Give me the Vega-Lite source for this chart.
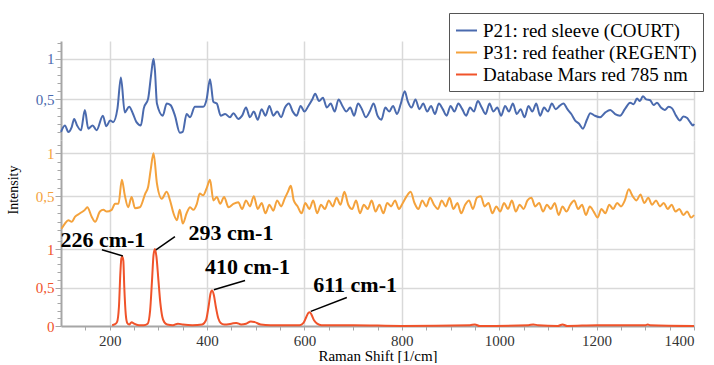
{
  "$schema": "https://vega.github.io/schema/vega-lite/v6.json",
  "background": "white",
  "padding": {"left": 6, "top": 12, "right": 0, "bottom": 0},
  "config": {
    "view": {"stroke": null},
    "font": "Liberation Serif",
    "axis": {
      "labelFont": "Liberation Serif",
      "titleFont": "Liberation Serif",
      "labelFontSize": 15,
      "gridColor": "#d9d9d9",
      "gridWidth": 1.5,
      "domainColor": "#a6a6a6",
      "domainWidth": 2,
      "tickColor": "#a6a6a6",
      "labelOverlap": false
    },
    "axisX": {"titleFontSize": 15, "titleFontWeight": "normal", "titleColor": "black"},
    "axisY": {"titleFontSize": 14, "titleFontWeight": "normal", "titleColor": "black"},
    "legend": {
      "labelFont": "Liberation Serif",
      "labelFontSize": 19,
      "labelColor": "black",
      "labelLimit": 400
    },
    "line": {"strokeWidth": 2, "interpolate": "monotone"}
  },
  "datasets": {
    "p21": [
      {"shift":100,"intensity":0.10},{"shift":108,"intensity":0.18},{"shift":115,"intensity":0.10},{"shift":122,"intensity":0.16},{"shift":127,"intensity":0.26},{"shift":133,"intensity":0.18},{"shift":141,"intensity":0.12},{"shift":149,"intensity":0.37},{"shift":156,"intensity":0.14},{"shift":165,"intensity":0.18},{"shift":173,"intensity":0.12},{"shift":186,"intensity":0.30},{"shift":193,"intensity":0.17},{"shift":201,"intensity":0.24},{"shift":207,"intensity":0.22},{"shift":216,"intensity":0.39},{"shift":223,"intensity":0.77},{"shift":231,"intensity":0.34},{"shift":240,"intensity":0.41},{"shift":248,"intensity":0.32},{"shift":255,"intensity":0.22},{"shift":264,"intensity":0.18},{"shift":270,"intensity":0.39},{"shift":279,"intensity":0.51},{"shift":285,"intensity":0.80},{"shift":290,"intensity":1.0},{"shift":293,"intensity":0.85},{"shift":297,"intensity":0.45},{"shift":309,"intensity":0.30},{"shift":317,"intensity":0.45},{"shift":325,"intensity":0.43},{"shift":334,"intensity":0.30},{"shift":344,"intensity":0.09},{"shift":350,"intensity":0.10},{"shift":358,"intensity":0.32},{"shift":365,"intensity":0.28},{"shift":375,"intensity":0.41},{"shift":385,"intensity":0.41},{"shift":392,"intensity":0.41},{"shift":399,"intensity":0.50},{"shift":406,"intensity":0.75},{"shift":413,"intensity":0.47},{"shift":420,"intensity":0.45},{"shift":428,"intensity":0.30},{"shift":437,"intensity":0.32},{"shift":447,"intensity":0.28},{"shift":454,"intensity":0.33},{"shift":464,"intensity":0.26},
      {"shift":472,"intensity":0.30},{"shift":480,"intensity":0.40},{"shift":488,"intensity":0.28},{"shift":496,"intensity":0.35},{"shift":504,"intensity":0.25},{"shift":512,"intensity":0.38},{"shift":520,"intensity":0.30},{"shift":528,"intensity":0.42},{"shift":536,"intensity":0.30},{"shift":544,"intensity":0.35},{"shift":552,"intensity":0.28},{"shift":560,"intensity":0.40},{"shift":568,"intensity":0.45},{"shift":576,"intensity":0.35},{"shift":584,"intensity":0.30},{"shift":592,"intensity":0.42},{"shift":600,"intensity":0.35},{"shift":608,"intensity":0.42},{"shift":616,"intensity":0.50},{"shift":622,"intensity":0.57},{"shift":630,"intensity":0.48},{"shift":638,"intensity":0.52},{"shift":646,"intensity":0.40},{"shift":654,"intensity":0.45},{"shift":662,"intensity":0.35},{"shift":670,"intensity":0.50},{"shift":678,"intensity":0.42},{"shift":686,"intensity":0.35},{"shift":694,"intensity":0.40},{"shift":702,"intensity":0.30},{"shift":710,"intensity":0.45},{"shift":718,"intensity":0.38},{"shift":726,"intensity":0.28},{"shift":734,"intensity":0.35},{"shift":742,"intensity":0.45},{"shift":750,"intensity":0.30},{"shift":758,"intensity":0.25},{"shift":766,"intensity":0.40},{"shift":774,"intensity":0.35},{"shift":782,"intensity":0.42},{"shift":790,"intensity":0.32},{"shift":798,"intensity":0.45},{"shift":806,"intensity":0.60},{"shift":812,"intensity":0.48},{"shift":820,"intensity":0.40},{"shift":828,"intensity":0.50},{"shift":836,"intensity":0.38},{"shift":844,"intensity":0.45},{"shift":852,"intensity":0.35},{"shift":860,"intensity":0.42},{"shift":868,"intensity":0.32},{"shift":876,"intensity":0.45},{"shift":884,"intensity":0.38},{"shift":892,"intensity":0.30},{"shift":900,"intensity":0.42},{"shift":908,"intensity":0.35},{"shift":916,"intensity":0.45},{"shift":924,"intensity":0.38},{"shift":932,"intensity":0.30},{"shift":940,"intensity":0.40},{"shift":948,"intensity":0.35},{"shift":956,"intensity":0.48},{"shift":964,"intensity":0.40},{"shift":972,"intensity":0.32},{"shift":980,"intensity":0.45},{"shift":988,"intensity":0.35},{"shift":996,"intensity":0.40},{"shift":1004,"intensity":0.30},{"shift":1012,"intensity":0.42},{"shift":1020,"intensity":0.35},{"shift":1028,"intensity":0.45},{"shift":1036,"intensity":0.32},{"shift":1044,"intensity":0.38},{"shift":1052,"intensity":0.28},{"shift":1060,"intensity":0.42},{"shift":1068,"intensity":0.35},{"shift":1076,"intensity":0.45},{"shift":1084,"intensity":0.30},{"shift":1092,"intensity":0.40},{"shift":1100,"intensity":0.35},{"shift":1108,"intensity":0.45},{"shift":1116,"intensity":0.38},
      {"shift":1124,"intensity":0.42},{"shift":1132,"intensity":0.45},{"shift":1140,"intensity":0.38},{"shift":1148,"intensity":0.32},{"shift":1156,"intensity":0.24},{"shift":1164,"intensity":0.20},{"shift":1172,"intensity":0.14},{"shift":1180,"intensity":0.25},{"shift":1187,"intensity":0.33},{"shift":1196,"intensity":0.30},{"shift":1207,"intensity":0.28},{"shift":1218,"intensity":0.34},{"shift":1228,"intensity":0.37},{"shift":1238,"intensity":0.32},{"shift":1248,"intensity":0.30},{"shift":1258,"intensity":0.38},{"shift":1269,"intensity":0.46},{"shift":1276,"intensity":0.44},{"shift":1283,"intensity":0.51},{"shift":1289,"intensity":0.48},{"shift":1295,"intensity":0.54},{"shift":1302,"intensity":0.50},{"shift":1310,"intensity":0.49},{"shift":1317,"intensity":0.43},{"shift":1324,"intensity":0.46},{"shift":1332,"intensity":0.40},{"shift":1340,"intensity":0.37},{"shift":1348,"intensity":0.41},{"shift":1355,"intensity":0.39},{"shift":1363,"intensity":0.30},{"shift":1371,"intensity":0.24},{"shift":1378,"intensity":0.29},{"shift":1386,"intensity":0.27},{"shift":1392,"intensity":0.22},{"shift":1398,"intensity":0.18},{"shift":1400,"intensity":0.20}
    ],
    "p31": [
      {"shift":101,"intensity":0.12},{"shift":108,"intensity":0.18},{"shift":115,"intensity":0.22},{"shift":122,"intensity":0.20},{"shift":129,"intensity":0.26},{"shift":139,"intensity":0.30},{"shift":149,"intensity":0.34},{"shift":154,"intensity":0.37},{"shift":163,"intensity":0.26},{"shift":170,"intensity":0.20},{"shift":180,"intensity":0.32},{"shift":187,"intensity":0.34},{"shift":194,"intensity":0.32},{"shift":204,"intensity":0.34},{"shift":211,"intensity":0.41},{"shift":218,"intensity":0.41},{"shift":225,"intensity":0.69},{"shift":231,"intensity":0.51},{"shift":238,"intensity":0.37},{"shift":245,"intensity":0.49},{"shift":252,"intensity":0.36},{"shift":262,"intensity":0.37},{"shift":273,"intensity":0.53},{"shift":279,"intensity":0.61},{"shift":284,"intensity":0.80},{"shift":290,"intensity":1.0},{"shift":297,"intensity":0.65},{"shift":307,"intensity":0.47},{"shift":317,"intensity":0.55},{"shift":324,"intensity":0.45},{"shift":331,"intensity":0.30},{"shift":338,"intensity":0.22},{"shift":344,"intensity":0.34},{"shift":350,"intensity":0.18},{"shift":358,"intensity":0.30},{"shift":365,"intensity":0.37},{"shift":372,"intensity":0.34},{"shift":379,"intensity":0.41},{"shift":385,"intensity":0.53},{"shift":392,"intensity":0.51},{"shift":399,"intensity":0.59},{"shift":406,"intensity":0.69},{"shift":413,"intensity":0.45},{"shift":420,"intensity":0.49},{"shift":427,"intensity":0.41},{"shift":435,"intensity":0.49},{"shift":444,"intensity":0.37},{"shift":454,"intensity":0.41},{"shift":464,"intensity":0.43},
      {"shift":472,"intensity":0.35},{"shift":480,"intensity":0.45},{"shift":488,"intensity":0.38},{"shift":496,"intensity":0.50},{"shift":504,"intensity":0.35},{"shift":512,"intensity":0.42},{"shift":520,"intensity":0.30},{"shift":528,"intensity":0.40},{"shift":536,"intensity":0.33},{"shift":544,"intensity":0.45},{"shift":552,"intensity":0.38},{"shift":560,"intensity":0.48},{"shift":566,"intensity":0.55},{"shift":572,"intensity":0.62},{"shift":578,"intensity":0.45},{"shift":586,"intensity":0.38},{"shift":594,"intensity":0.30},{"shift":602,"intensity":0.42},{"shift":610,"intensity":0.35},{"shift":618,"intensity":0.45},{"shift":626,"intensity":0.30},{"shift":634,"intensity":0.40},{"shift":642,"intensity":0.35},{"shift":650,"intensity":0.45},{"shift":658,"intensity":0.38},{"shift":666,"intensity":0.48},{"shift":674,"intensity":0.40},{"shift":682,"intensity":0.55},{"shift":690,"intensity":0.40},{"shift":698,"intensity":0.35},{"shift":706,"intensity":0.45},{"shift":714,"intensity":0.30},{"shift":722,"intensity":0.40},{"shift":730,"intensity":0.35},{"shift":738,"intensity":0.45},{"shift":746,"intensity":0.32},{"shift":754,"intensity":0.40},{"shift":762,"intensity":0.30},{"shift":770,"intensity":0.42},{"shift":778,"intensity":0.38},{"shift":786,"intensity":0.45},{"shift":794,"intensity":0.35},{"shift":802,"intensity":0.42},{"shift":810,"intensity":0.50},{"shift":818,"intensity":0.55},{"shift":826,"intensity":0.42},{"shift":834,"intensity":0.35},{"shift":842,"intensity":0.45},{"shift":850,"intensity":0.38},{"shift":858,"intensity":0.48},{"shift":866,"intensity":0.40},{"shift":874,"intensity":0.35},{"shift":882,"intensity":0.45},{"shift":890,"intensity":0.38},{"shift":898,"intensity":0.48},{"shift":906,"intensity":0.35},{"shift":914,"intensity":0.42},{"shift":922,"intensity":0.30},{"shift":930,"intensity":0.40},{"shift":938,"intensity":0.45},{"shift":946,"intensity":0.35},{"shift":954,"intensity":0.48},{"shift":962,"intensity":0.50},{"shift":970,"intensity":0.38},{"shift":978,"intensity":0.42},{"shift":986,"intensity":0.30},{"shift":994,"intensity":0.38},{"shift":1002,"intensity":0.32},{"shift":1010,"intensity":0.42},{"shift":1018,"intensity":0.35},{"shift":1026,"intensity":0.45},{"shift":1034,"intensity":0.32},{"shift":1042,"intensity":0.40},{"shift":1050,"intensity":0.35},{"shift":1058,"intensity":0.45},{"shift":1066,"intensity":0.48},{"shift":1074,"intensity":0.38},{"shift":1082,"intensity":0.42},{"shift":1090,"intensity":0.32},{"shift":1098,"intensity":0.40},{"shift":1106,"intensity":0.35},{"shift":1114,"intensity":0.42},{"shift":1122,"intensity":0.28},{"shift":1130,"intensity":0.38},{"shift":1138,"intensity":0.32},{"shift":1146,"intensity":0.40},{"shift":1154,"intensity":0.45},{"shift":1162,"intensity":0.35},{"shift":1170,"intensity":0.40},{"shift":1178,"intensity":0.28},{"shift":1186,"intensity":0.38},{"shift":1194,"intensity":0.32},{"shift":1202,"intensity":0.25},{"shift":1210,"intensity":0.35},{"shift":1218,"intensity":0.30},{"shift":1226,"intensity":0.40},{"shift":1234,"intensity":0.35},{"shift":1242,"intensity":0.42},{"shift":1250,"intensity":0.38},{"shift":1258,"intensity":0.45},{"shift":1266,"intensity":0.58},{"shift":1274,"intensity":0.50},{"shift":1282,"intensity":0.45},{"shift":1290,"intensity":0.52},{"shift":1298,"intensity":0.42},{"shift":1306,"intensity":0.48},{"shift":1314,"intensity":0.40},{"shift":1322,"intensity":0.45},{"shift":1330,"intensity":0.38},{"shift":1338,"intensity":0.42},{"shift":1346,"intensity":0.35},{"shift":1354,"intensity":0.40},{"shift":1362,"intensity":0.32},{"shift":1370,"intensity":0.35},{"shift":1378,"intensity":0.28},{"shift":1386,"intensity":0.32},{"shift":1394,"intensity":0.25},{"shift":1400,"intensity":0.28}
    ],
    "mars": [
      {"shift":205,"intensity":0.01},{"shift":210,"intensity":0.02},{"shift":215,"intensity":0.05},{"shift":219,"intensity":0.25},{"shift":222,"intensity":0.70},{"shift":224,"intensity":0.88},{"shift":226,"intensity":0.90},{"shift":228,"intensity":0.85},{"shift":230,"intensity":0.50},{"shift":233,"intensity":0.15},{"shift":236,"intensity":0.04},{"shift":240,"intensity":0.02},{"shift":245,"intensity":0.05},{"shift":250,"intensity":0.03},{"shift":260,"intensity":0.01},{"shift":270,"intensity":0.01},{"shift":278,"intensity":0.03},{"shift":283,"intensity":0.20},{"shift":287,"intensity":0.60},{"shift":290,"intensity":0.92},{"shift":293,"intensity":1.0},{"shift":296,"intensity":0.90},{"shift":300,"intensity":0.60},{"shift":304,"intensity":0.30},{"shift":308,"intensity":0.12},{"shift":312,"intensity":0.05},{"shift":318,"intensity":0.02},{"shift":330,"intensity":0.01},{"shift":340,"intensity":0.03},{"shift":350,"intensity":0.02},{"shift":370,"intensity":0.01},{"shift":390,"intensity":0.02},{"shift":398,"intensity":0.08},{"shift":403,"intensity":0.25},{"shift":407,"intensity":0.42},{"shift":410,"intensity":0.46},{"shift":414,"intensity":0.40},{"shift":418,"intensity":0.25},{"shift":423,"intensity":0.10},{"shift":428,"intensity":0.04},{"shift":435,"intensity":0.02},{"shift":450,"intensity":0.03},{"shift":460,"intensity":0.04},{"shift":470,"intensity":0.02},{"shift":480,"intensity":0.03},{"shift":490,"intensity":0.06},{"shift":498,"intensity":0.05},{"shift":510,"intensity":0.02},{"shift":530,"intensity":0.01},{"shift":560,"intensity":0.01},{"shift":590,"intensity":0.01},{"shift":598,"intensity":0.04},{"shift":604,"intensity":0.12},{"shift":608,"intensity":0.17},{"shift":611,"intensity":0.18},{"shift":615,"intensity":0.14},{"shift":620,"intensity":0.07},{"shift":626,"intensity":0.03},{"shift":635,"intensity":0.01},{"shift":660,"intensity":0.01},{"shift":700,"intensity":0.01},{"shift":800,"intensity":0.0},{"shift":940,"intensity":0.01},{"shift":950,"intensity":0.02},{"shift":960,"intensity":0.0},{"shift":1060,"intensity":0.01},{"shift":1070,"intensity":0.02},{"shift":1080,"intensity":0.01},{"shift":1120,"intensity":0.0},{"shift":1130,"intensity":0.02},{"shift":1140,"intensity":0.0},{"shift":1200,"intensity":0.01},{"shift":1300,"intensity":0.01},{"shift":1305,"intensity":0.02},{"shift":1310,"intensity":0.01},{"shift":1400,"intensity":0.0}
    ],
    "leaders": [
      {"shift":227,"intensity":0.91,"toShift":184,"toIntensity":0.99},
      {"shift":295,"intensity":0.99,"toShift":334,"toIntensity":1.16},
      {"shift":414,"intensity":0.47,"toShift":478,"toIntensity":0.59},
      {"shift":613,"intensity":0.19,"toShift":687,"toIntensity":0.37}
    ],
    "labels": [
      {"label":"226 cm-1","shift":186,"intensity":1.12},
      {"label":"293 cm-1","shift":449,"intensity":1.21},
      {"label":"410 cm-1","shift":483,"intensity":0.765},
      {"label":"611 cm-1","shift":704,"intensity":0.53}
    ]
  },
  "spacing": 0,
  "bounds": "flush",
  "vconcat": [
    {
      "width": 633,
      "height": 99,
      "data": {"name": "p21"},
      "mark": {"type": "line"},
      "encoding": {
        "x": {
          "field": "shift", "type": "quantitative",
          "scale": {"domain": [100, 1400], "nice": false, "zero": false},
          "axis": {"values": [200, 400, 600, 800, 1000, 1200, 1400], "grid": true, "labels": false, "ticks": false, "domain": false, "title": null}
        },
        "y": {
          "field": "intensity", "type": "quantitative",
          "scale": {"domain": [0, 1.22], "nice": false},
          "axis": {
            "values": [0.1, 0.2, 0.3, 0.4, 0.5, 0.6, 0.7, 0.8, 0.9, 1, 1.1, 1.2],
            "labelExpr": "datum.value == 1 ? '1' : datum.value == 0.5 ? '0,5' : ''",
            "gridOpacity": {"condition": {"test": "datum.value == 0.5 || datum.value == 1", "value": 1}, "value": 0},
            "tickSize": {"condition": {"test": "datum.value == 0.5 || datum.value == 1", "value": 6}, "value": 4},
            "labelColor": "#4a6aae", "labelFontSize": 15, "labelPadding": 1, "title": null, "minExtent": 30, "maxExtent": 30
          }
        },
        "color": {
          "datum": "P21: red sleeve (COURT)",
          "type": "nominal",
          "scale": {
            "domain": ["P21: red sleeve (COURT)", "P31: red feather (REGENT)", "Database Mars red 785 nm"],
            "range": ["#4a6aae", "#f4a23c", "#f0532a"]
          },
          "legend": {
            "orient": "none", "legendX": 388, "legendY": -28,
            "title": null, "symbolType": "stroke", "symbolSize": 441, "symbolStrokeWidth": 2,
            "labelFont": "Liberation Serif", "labelFontSize": 19, "labelColor": "black", "labelLimit": 400,
            "labelOffset": 5, "rowPadding": 0, "padding": 6,
            "strokeColor": "#555555", "fillColor": "white", "zindex": 2
          }
        }
      }
    },
    {
      "width": 633,
      "height": 99,
      "data": {"name": "p31"},
      "mark": {"type": "line"},
      "encoding": {
        "x": {
          "field": "shift", "type": "quantitative",
          "scale": {"domain": [100, 1400], "nice": false, "zero": false},
          "axis": {"values": [200, 400, 600, 800, 1000, 1200, 1400], "grid": true, "labels": false, "ticks": false, "domain": false, "title": null}
        },
        "y": {
          "field": "intensity", "type": "quantitative",
          "scale": {"domain": [0, 1.155], "nice": false},
          "axis": {
            "values": [0.1, 0.2, 0.3, 0.4, 0.5, 0.6, 0.7, 0.8, 0.9, 1, 1.1],
            "labelExpr": "datum.value == 1 ? '1' : datum.value == 0.5 ? '0,5' : ''",
            "gridOpacity": {"condition": {"test": "datum.value == 0.5 || datum.value == 1", "value": 1}, "value": 0},
            "tickSize": {"condition": {"test": "datum.value == 0.5 || datum.value == 1", "value": 6}, "value": 4},
            "labelColor": "#f4a23c", "labelFontSize": 15, "labelPadding": 1,
            "title": "Intensity", "titleFontSize": 14, "titleFontWeight": "normal", "titleColor": "black", "titlePadding": 11,
            "minExtent": 30, "maxExtent": 30
          }
        },
        "color": {"datum": "P31: red feather (REGENT)", "type": "nominal", "legend": null}
      }
    },
    {
      "width": 633,
      "height": 87,
      "encoding": {
        "x": {
          "field": "shift", "type": "quantitative",
          "scale": {"domain": [100, 1400], "nice": false, "zero": false},
          "axis": {
            "values": [150, 200, 250, 300, 350, 400, 450, 500, 550, 600, 650, 700, 750, 800, 850, 900, 950, 1000, 1050, 1100, 1150, 1200, 1250, 1300, 1350, 1400],
            "labelExpr": "datum.value % 200 == 0 ? format(datum.value, 'd') : ''",
            "gridOpacity": {"condition": {"test": "datum.value % 200 == 0", "value": 1}, "value": 0},
            "tickSize": 4,
            "labelColor": "#333333", "labelFontSize": 15, "labelPadding": 3,
            "title": "Raman Shift [1/cm]", "titleFontSize": 15, "titleFontWeight": "normal", "titleColor": "black", "titlePadding": 0
          }
        },
        "y": {
          "field": "intensity", "type": "quantitative",
          "scale": {"domain": [0, 1.13], "nice": false},
          "axis": {
            "values": [0, 0.1, 0.2, 0.3, 0.4, 0.5, 0.6, 0.7, 0.8, 0.9, 1, 1.1],
            "labelExpr": "datum.value == 1 ? '1' : datum.value == 0.5 ? '0,5' : datum.value == 0 ? '0' : ''",
            "gridOpacity": {"condition": {"test": "datum.value == 0.5 || datum.value == 1", "value": 1}, "value": 0},
            "tickSize": {"condition": {"test": "datum.value == 0.5 || datum.value == 1 || datum.value == 0", "value": 6}, "value": 4},
            "labelColor": "#f0532a", "labelFontSize": 15, "labelPadding": 1, "title": null, "minExtent": 30, "maxExtent": 30
          }
        }
      },
      "layer": [
        {
          "data": {"name": "mars"},
          "mark": {"type": "line"},
          "encoding": {
            "color": {"datum": "Database Mars red 785 nm", "type": "nominal", "legend": null}
          }
        },
        {
          "data": {"name": "leaders"},
          "mark": {"type": "rule", "color": "black", "strokeWidth": 1.5},
          "encoding": {
            "x2": {"field": "toShift"},
            "y2": {"field": "toIntensity"}
          }
        },
        {
          "data": {"name": "labels"},
          "mark": {"type": "text", "font": "Liberation Serif", "fontSize": 22, "fontWeight": "bold", "color": "black", "align": "center", "baseline": "middle"},
          "encoding": {
            "text": {"field": "label"}
          }
        }
      ]
    }
  ]
}
